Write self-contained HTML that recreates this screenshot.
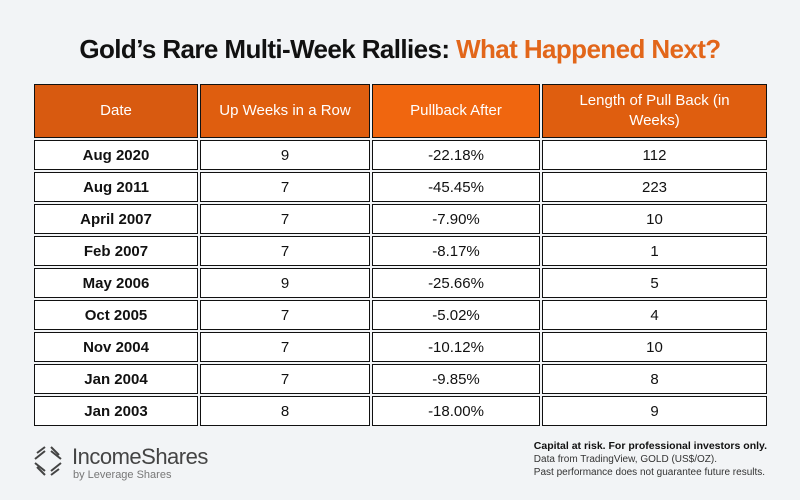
<!DOCTYPE html>
<html><head><meta charset="utf-8"><style>
*{margin:0;padding:0;box-sizing:border-box}
body{width:800px;height:500px;background:#f2f4f6;font-family:"Liberation Sans",sans-serif;position:relative;overflow:hidden}
h1{position:absolute;top:34px;left:0;width:800px;text-align:center;font-size:26px;font-weight:bold;color:#111;letter-spacing:-0.6px}
h1 span{color:#e2661a}
table{position:absolute;left:32px;top:82px;border-collapse:separate;border-spacing:2px 2px;width:737px}
td,th{border:1.5px solid #111;text-align:center;font-size:15px;color:#111;background:#fff;height:30px}
th{height:54px;font-weight:normal;color:#fff;font-size:15px;line-height:20px}
th.a{background:#d85a10}th.b{background:#df5e0f}th.c{background:#f0660f}th.d{background:#df5e0f}
td:first-child{font-weight:bold}
.logo{position:absolute;left:72px;top:444px;font-size:22px;color:#444;letter-spacing:-0.5px}
.sub{position:absolute;left:73px;top:469px;font-size:11px;color:#777}
.right{position:absolute;right:33px;top:440px;text-align:left;font-size:10px;color:#333;line-height:13px}
.right b{color:#111}
</style></head><body>
<h1>Gold’s Rare Multi-Week Rallies: <span>What Happened Next?</span></h1>
<table>
<tr><th class="a" style="width:164px">Date</th><th class="b" style="width:170px">Up Weeks in a Row</th><th class="c" style="width:168px">Pullback After</th><th class="d">Length of Pull Back (in<br>Weeks)</th></tr>
<tr><td>Aug 2020</td><td>9</td><td>-22.18%</td><td>112</td></tr>
<tr><td>Aug 2011</td><td>7</td><td>-45.45%</td><td>223</td></tr>
<tr><td>April 2007</td><td>7</td><td>-7.90%</td><td>10</td></tr>
<tr><td>Feb 2007</td><td>7</td><td>-8.17%</td><td>1</td></tr>
<tr><td>May 2006</td><td>9</td><td>-25.66%</td><td>5</td></tr>
<tr><td>Oct 2005</td><td>7</td><td>-5.02%</td><td>4</td></tr>
<tr><td>Nov 2004</td><td>7</td><td>-10.12%</td><td>10</td></tr>
<tr><td>Jan 2004</td><td>7</td><td>-9.85%</td><td>8</td></tr>
<tr><td>Jan 2003</td><td>8</td><td>-18.00%</td><td>9</td></tr>
</table>
<svg style="position:absolute;left:33px;top:445px" width="30" height="32" viewBox="0 0 30 32" fill="none" stroke="#444" stroke-width="2">
<path d="M4 8 L12 2 M2 14 L12 6 M18 2 L26 10 M18 6 L28 14 M26 24 L18 30 M28 18 L18 26 M12 30 L4 22 M12 26 L2 18"/></svg>
<div class="logo">IncomeShares</div>
<div class="sub">by Leverage Shares</div>
<div class="right"><b style="font-size:10.5px">Capital at risk. For professional investors only.</b><br>Data from TradingView, GOLD (US$/OZ).<br>Past performance does not guarantee future results.</div>
</body></html>
